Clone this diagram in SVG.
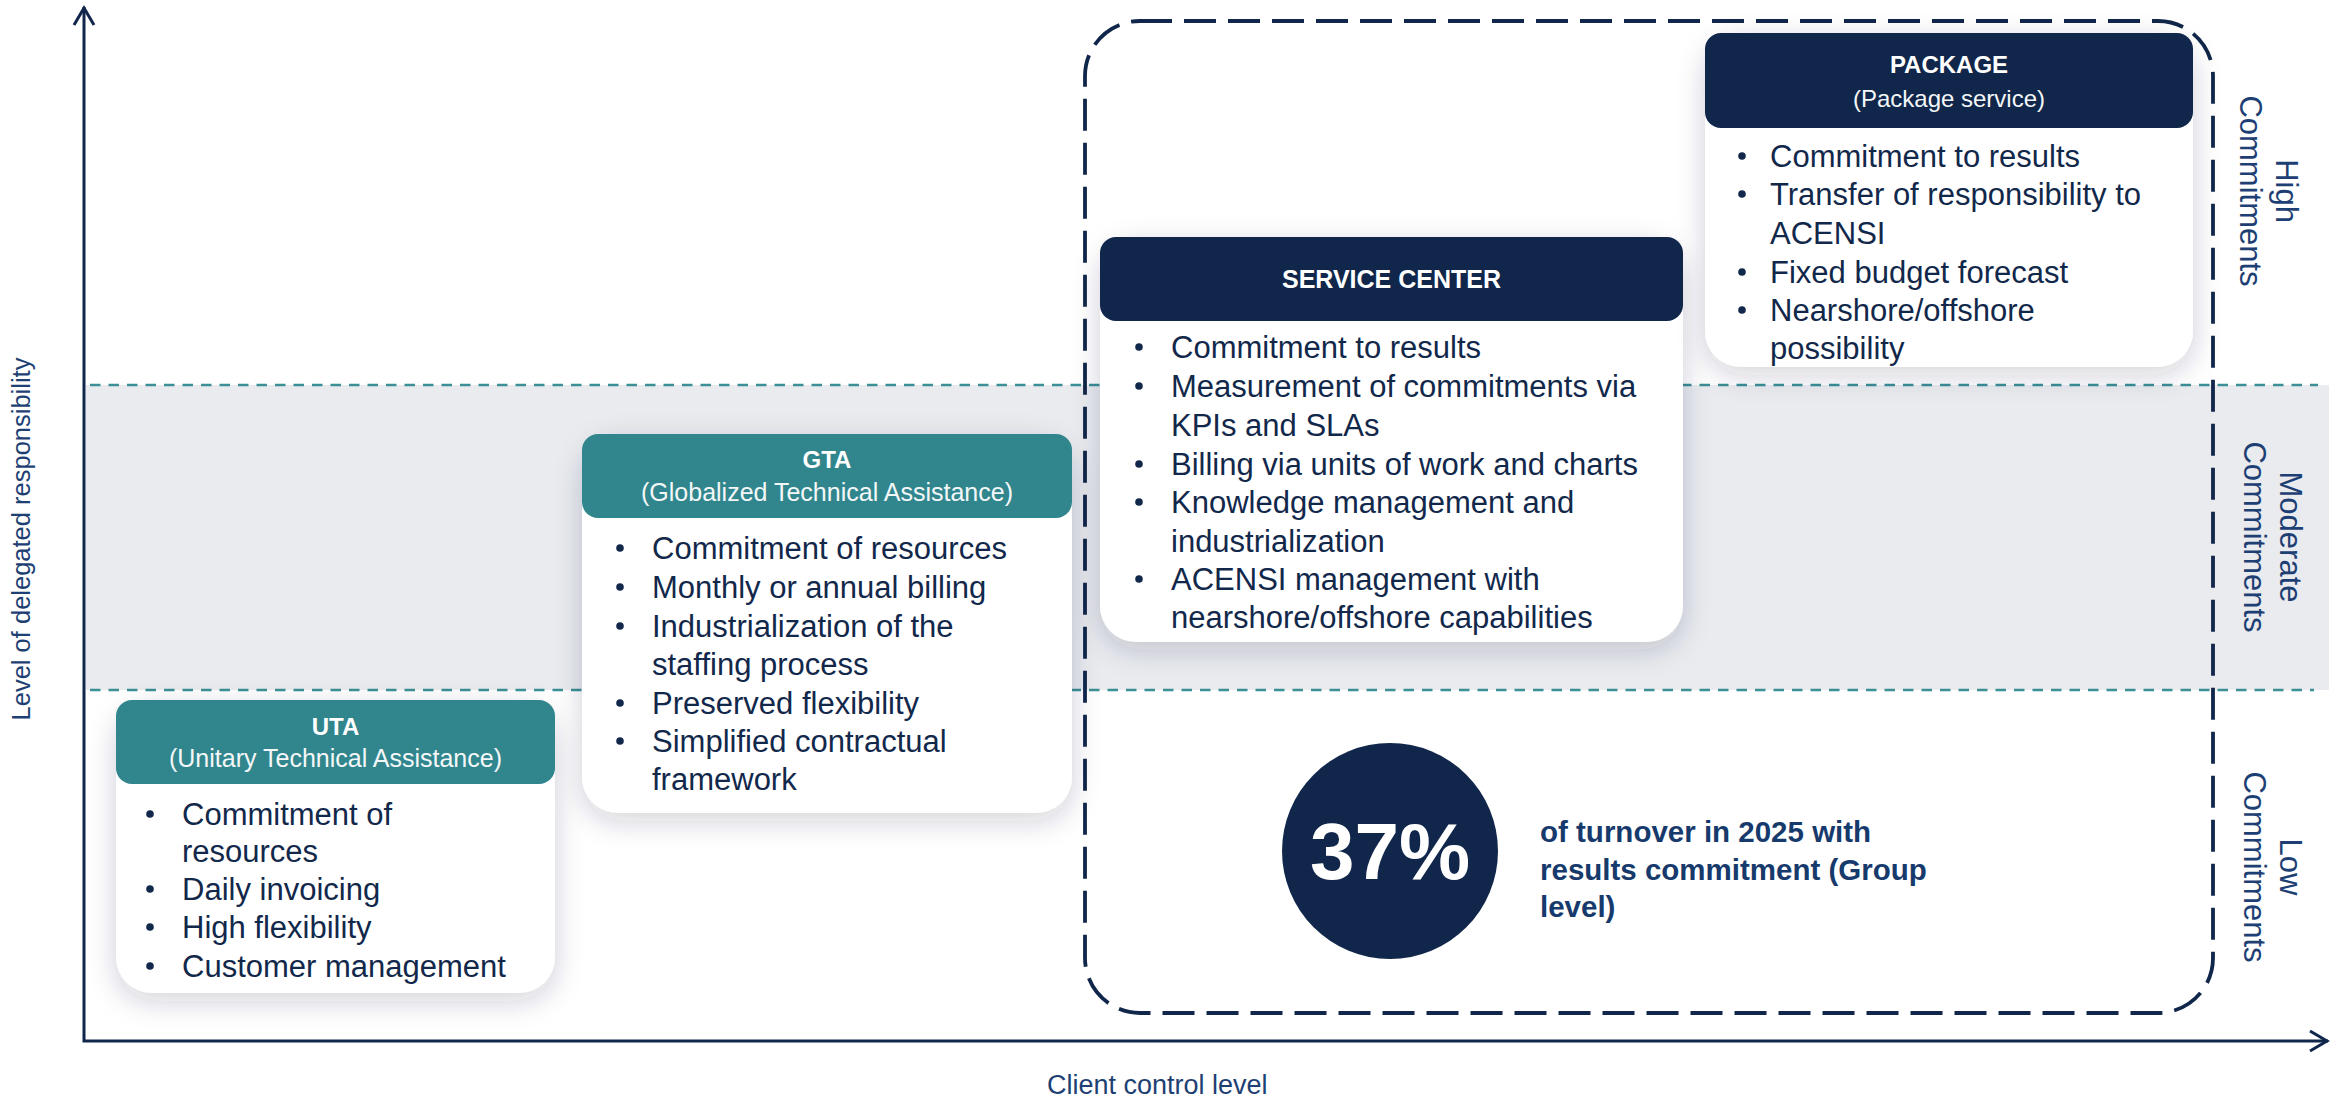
<svg xmlns="http://www.w3.org/2000/svg" width="2341" height="1099" viewBox="0 0 2341 1099">
<defs>
<filter id="sh" x="-20%" y="-20%" width="140%" height="140%">
<feDropShadow dx="0" dy="8" stdDeviation="14" flood-color="#1a2a40" flood-opacity="0.2"/>
</filter>
<style>
.card{fill:#ffffff}
.hteal{fill:#31868d}
.hnavy{fill:#10264a}
.ttl{font-family:"Liberation Sans",Arial,sans-serif;font-weight:bold;fill:#ffffff;text-anchor:middle}
.sub{font-family:"Liberation Sans",Arial,sans-serif;fill:#f4f7f8;text-anchor:middle}
.bt{font-family:"Liberation Sans",Arial,sans-serif;font-size:31px;fill:#12284b}
.dot{fill:#12284b}
.lbl{font-family:"Liberation Sans",Arial,sans-serif;fill:#1e3f73}
.axis{stroke:#10264a;stroke-width:3;fill:none}
.tdash{stroke:#3b8f95;stroke-width:2.7;stroke-dasharray:10.5 8;fill:none}
</style>
</defs>
<rect width="2341" height="1099" fill="#ffffff"/>
<g id="bands">
<rect x="86" y="385" width="2243" height="305" fill="#e9ebef"/>
<line class="tdash" x1="90" y1="385" x2="2318" y2="385"/>
<line class="tdash" x1="90" y1="690" x2="2314" y2="690"/>
</g>
<g id="scope">
<rect x="1085" y="21" width="1128" height="992" rx="55" fill="none" stroke="#10264a" stroke-width="3.8" stroke-dasharray="32 12"/>
</g>
<g id="axes">
<polyline class="axis" points="84,7 84,1041 2328,1041"/>
<polyline class="axis" points="74,25 84,8 94,25"/>
<polyline class="axis" points="2310,1031 2327,1041 2310,1051"/>
<text class="lbl" font-size="25.5" text-anchor="middle" transform="translate(30,539) rotate(-90)">Level of delegated responsibility</text>
<text class="lbl" font-size="27" x="1047" y="1094">Client control level</text>
</g>
<g id="levels">
<text class="lbl" font-size="31" text-anchor="middle" transform="translate(2258,191) rotate(90)"><tspan x="0" y="-18">High</tspan><tspan x="0" y="18">Commitments</tspan></text>
<text class="lbl" font-size="31" text-anchor="middle" transform="translate(2262,537) rotate(90)"><tspan x="0" y="-18">Moderate</tspan><tspan x="0" y="18">Commitments</tspan></text>
<text class="lbl" font-size="31" text-anchor="middle" transform="translate(2262,867) rotate(90)"><tspan x="0" y="-18">Low</tspan><tspan x="0" y="18">Commitments</tspan></text>
</g>
<g id="uta">
<rect class="card" x="116" y="700" width="439" height="293" rx="36" filter="url(#sh)"/>
<rect class="hteal" x="116" y="700" width="439" height="84" rx="16"/>
<text class="ttl" x="335.5" y="735" font-size="24">UTA</text>
<text class="sub" x="335.5" y="767" font-size="25">(Unitary Technical Assistance)</text>
<circle class="dot" cx="150" cy="814" r="3.8"/>
<circle class="dot" cx="150" cy="889" r="3.8"/>
<circle class="dot" cx="150" cy="927" r="3.8"/>
<circle class="dot" cx="150" cy="966" r="3.8"/>
<text class="bt" x="182" y="825">Commitment of</text>
<text class="bt" x="182" y="862">resources</text>
<text class="bt" x="182" y="900">Daily invoicing</text>
<text class="bt" x="182" y="938">High flexibility</text>
<text class="bt" x="182" y="977">Customer management</text>
</g>
<g id="gta">
<rect class="card" x="582" y="434" width="490" height="379" rx="36" filter="url(#sh)"/>
<rect class="hteal" x="582" y="434" width="490" height="84" rx="16"/>
<text class="ttl" x="827" y="468" font-size="24">GTA</text>
<text class="sub" x="827" y="501" font-size="25">(Globalized Technical Assistance)</text>
<circle class="dot" cx="620" cy="548" r="3.8"/>
<circle class="dot" cx="620" cy="587" r="3.8"/>
<circle class="dot" cx="620" cy="626" r="3.8"/>
<circle class="dot" cx="620" cy="703" r="3.8"/>
<circle class="dot" cx="620" cy="741" r="3.8"/>
<text class="bt" x="652" y="559">Commitment of resources</text>
<text class="bt" x="652" y="598">Monthly or annual billing</text>
<text class="bt" x="652" y="637">Industrialization of the</text>
<text class="bt" x="652" y="675">staffing process</text>
<text class="bt" x="652" y="714">Preserved flexibility</text>
<text class="bt" x="652" y="752">Simplified contractual</text>
<text class="bt" x="652" y="790">framework</text>
</g>
<g id="service-center">
<rect class="card" x="1100" y="237" width="583" height="405" rx="36" filter="url(#sh)"/>
<rect class="hnavy" x="1100" y="237" width="583" height="84" rx="16"/>
<text class="ttl" x="1391.5" y="288" font-size="25">SERVICE CENTER</text>
<circle class="dot" cx="1139" cy="347" r="3.8"/>
<circle class="dot" cx="1139" cy="386" r="3.8"/>
<circle class="dot" cx="1139" cy="464" r="3.8"/>
<circle class="dot" cx="1139" cy="502" r="3.8"/>
<circle class="dot" cx="1139" cy="579" r="3.8"/>
<text class="bt" x="1171" y="358">Commitment to results</text>
<text class="bt" x="1171" y="397">Measurement of commitments via</text>
<text class="bt" x="1171" y="436">KPIs and SLAs</text>
<text class="bt" x="1171" y="475">Billing via units of work and charts</text>
<text class="bt" x="1171" y="513">Knowledge management and</text>
<text class="bt" x="1171" y="552">industrialization</text>
<text class="bt" x="1171" y="590">ACENSI management with</text>
<text class="bt" x="1171" y="628">nearshore/offshore capabilities</text>
</g>
<g id="package">
<rect class="card" x="1705" y="33" width="488" height="334" rx="36" filter="url(#sh)"/>
<rect class="hnavy" x="1705" y="33" width="488" height="95" rx="16"/>
<text class="ttl" x="1949" y="73" font-size="24">PACKAGE</text>
<text class="sub" x="1949" y="107" font-size="24">(Package service)</text>
<circle class="dot" cx="1742" cy="156" r="3.8"/>
<circle class="dot" cx="1742" cy="194" r="3.8"/>
<circle class="dot" cx="1742" cy="272" r="3.8"/>
<circle class="dot" cx="1742" cy="310" r="3.8"/>
<text class="bt" x="1770" y="167">Commitment to results</text>
<text class="bt" x="1770" y="205">Transfer of responsibility to</text>
<text class="bt" x="1770" y="244">ACENSI</text>
<text class="bt" x="1770" y="283">Fixed budget forecast</text>
<text class="bt" x="1770" y="321">Nearshore/offshore</text>
<text class="bt" x="1770" y="359">possibility</text>
</g>
<g id="kpi">
<circle cx="1390" cy="851" r="108" fill="#10264a"/>
<text x="1390" y="879" font-family="Liberation Sans,Arial,sans-serif" font-weight="bold" font-size="80" fill="#ffffff" text-anchor="middle">37%</text>
<text font-family="Liberation Sans,Arial,sans-serif" font-weight="bold" font-size="29.5" fill="#173a6c"><tspan x="1540" y="842">of turnover in 2025 with</tspan><tspan x="1540" y="880">results commitment (Group</tspan><tspan x="1540" y="917">level)</tspan></text>
</g>
</svg>
